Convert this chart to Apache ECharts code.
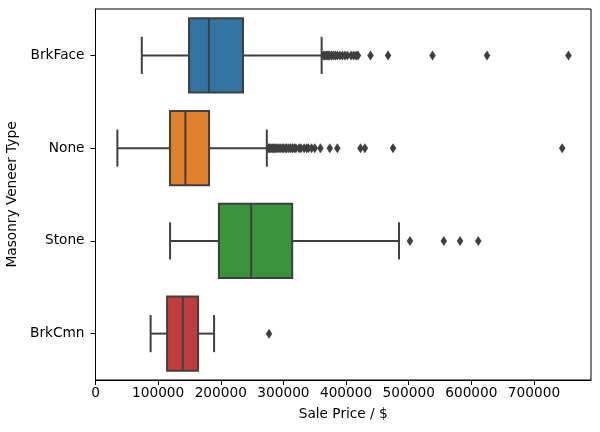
<!DOCTYPE html>
<html style="height: 100%">
<head>
 <meta charset="utf-8">
 <title>Sale price by masonry veneer type</title>
 <script src="https://cdn.jsdelivr.net/npm/echarts@6/dist/echarts.min.js"></script>
</head>
<body style="height: 100%; margin: 0; background: #fff">
 <div id="container" style="width: 600px; height: 432px"></div>
 <script type="text/javascript">
    // box stats (sale price, $)
    var categories = ['BrkFace', 'None', 'Stone', 'BrkCmn'];
    var whiskerLow  = [73900, 34900, 119000, 88000];
    var q1          = [149300, 119000, 197000, 114300];
    var median      = [181000, 143500, 248500, 139300];
    var q3          = [235500, 181300, 314000, 163800];
    var whiskerHigh = [361000, 273500, 484500, 189300];

    // fliers, one list per category
    var fliersBrkFace = [364000, 366000, 368000, 370000, 372000, 374000, 377000, 380000,
                         383000, 386000, 390000, 394000, 398000, 402000, 408000, 412000,
                         416000, 419000, 439000, 467000, 538000, 625000, 755000];
    var fliersNone = [276000, 278000, 280000, 282000, 284000, 286000, 288000, 290000,
                      293000, 295000, 298000, 300000, 303000, 305000, 308000, 311000,
                      314000, 315000, 318000, 320000, 325000, 328000, 333000, 337000,
                      340000, 345000, 350000, 359000, 374000, 386000, 423000, 430000,
                      475000, 745000];
    var fliersStone = [502000, 556000, 582000, 611000];
    var fliersBrkCmn = [277000];

    var xTicks = [0, 100000, 200000, 300000, 400000, 500000, 600000, 700000];

    var boxColors = ['#3274a1', '#e1812c', '#3a923a', '#c03d3e'];
    var lineColor = '#3f3f3f';
    var font = 'DejaVu Sans';

    var boxData = categories.map(function (c, i) {
        return [i, whiskerLow[i], q1[i], median[i], q3[i], whiskerHigh[i]];
    });
    var flierData = [];
    [fliersBrkFace, fliersNone, fliersStone, fliersBrkCmn].forEach(function (arr, i) {
        arr.forEach(function (v) { flierData.push([v, i]); });
    });

    var chart = echarts.init(document.getElementById('container'));
    chart.setOption({
        animation: false,
        backgroundColor: '#fff',
        grid: {
            left: 95.5, right: 9, top: 9, bottom: 52,
            outerBoundsMode: 'none', containLabel: false,
            show: true, borderColor: '#000', borderWidth: 1, backgroundColor: 'transparent'
        },
        xAxis: {
            type: 'value',
            min: 0, max: 791000, interval: 100000,
            name: 'Sale Price / $',
            nameLocation: 'middle',
            nameGap: 27,
            nameTextStyle: { fontFamily: font, fontSize: 13.7, color: '#000' },
            axisLine: { show: true, lineStyle: { color: '#000', width: 1 } },
            axisTick: { show: true, length: 5, lineStyle: { color: '#000' } },
            axisLabel: {
                fontFamily: font, fontSize: 13.7, color: '#000', margin: 6,
                showMaxLabel: false,
                formatter: function (v) { return xTicks.indexOf(v) >= 0 ? String(v) : ''; }
            },
            splitLine: { show: false }
        },
        yAxis: {
            type: 'category',
            data: categories,
            inverse: true,
            name: 'Masonry Veneer Type',
            nameLocation: 'middle',
            nameGap: 70,
            nameTextStyle: { fontFamily: font, fontSize: 13.7, color: '#000' },
            axisLine: { show: true, lineStyle: { color: '#000', width: 1 } },
            axisTick: { show: true, alignWithLabel: true, length: 5, lineStyle: { color: '#000' } },
            axisLabel: { fontFamily: font, fontSize: 13.7, color: '#000', margin: 11 },
            splitLine: { show: false }
        },
        series: [
            {
                type: 'custom',
                data: boxData,
                encode: { x: [1, 2, 3, 4, 5], y: 0 },
                renderItem: function (params, api) {
                    var ci = api.value(0);
                    var pLow = api.coord([api.value(1), ci]);
                    var pQ1 = api.coord([api.value(2), ci]);
                    var pMed = api.coord([api.value(3), ci]);
                    var pQ3 = api.coord([api.value(4), ci]);
                    var pHigh = api.coord([api.value(5), ci]);
                    var h = api.size([0, 1])[1] * 0.8;
                    var y = pMed[1];
                    var cap = h / 4;
                    var st = { stroke: lineColor, lineWidth: 2 };
                    return {
                        type: 'group',
                        children: [
                            { type: 'line', shape: { x1: pLow[0], y1: y, x2: pQ1[0], y2: y }, style: st },
                            { type: 'line', shape: { x1: pQ3[0], y1: y, x2: pHigh[0], y2: y }, style: st },
                            { type: 'line', shape: { x1: pLow[0], y1: y - cap, x2: pLow[0], y2: y + cap }, style: st },
                            { type: 'line', shape: { x1: pHigh[0], y1: y - cap, x2: pHigh[0], y2: y + cap }, style: st },
                            {
                                type: 'rect',
                                shape: { x: pQ1[0], y: y - h / 2, width: pQ3[0] - pQ1[0], height: h },
                                style: { fill: boxColors[ci], stroke: lineColor, lineWidth: 2 }
                            },
                            { type: 'line', shape: { x1: pMed[0], y1: y - h / 2, x2: pMed[0], y2: y + h / 2 }, style: st }
                        ]
                    };
                },
                z: 2
            },
            {
                type: 'scatter',
                data: flierData,
                symbol: 'diamond',
                symbolSize: [6.5, 10],
                itemStyle: { color: lineColor, opacity: 1 },
                z: 3
            }
        ]
    });
 </script>
</body>
</html>
